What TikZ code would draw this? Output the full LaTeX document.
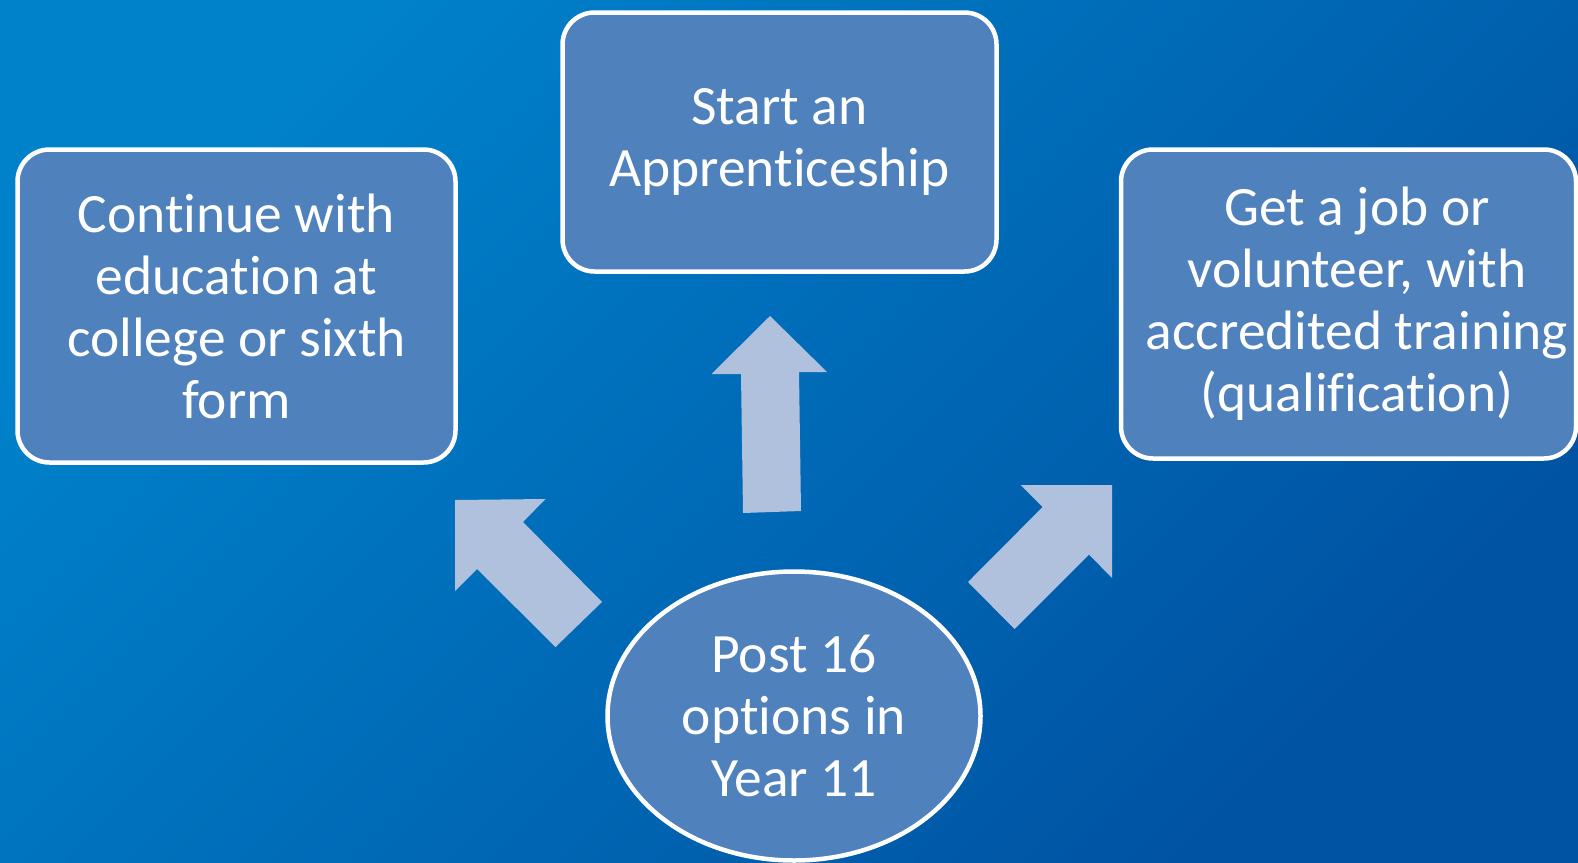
\documentclass[tikz,border=0pt]{standalone}
\usepackage{fontspec}
\setmainfont{Carlito}[Ligatures=NoCommon]
\usetikzlibrary{shapes.geometric}
\definecolor{bgA}{RGB}{0,130,203}
\definecolor{bgB}{RGB}{0,82,162}
\definecolor{boxfill}{RGB}{79,129,189}
\definecolor{arrowfill}{RGB}{176,193,221}
\begin{document}
\begin{tikzpicture}[x=1pt,y=-1pt,
  opttext/.style={text=white, align=center, inner sep=0pt, font=\fontsize{55.5}{62}\selectfont},
  optbox/.style={opttext, draw=white, line width=4.5pt, fill=boxfill, rounded corners=32pt},
  optell/.style={opttext, ellipse, draw=white, line width=4.5pt, fill=boxfill},
  blockarrow/.style={fill=arrowfill, draw=none}]
\useasboundingbox (0,0) rectangle (1578,862);
\shade[shading=axis, top color=bgA, bottom color=bgB, shading angle=45] (0,0) rectangle (1578,862);
% boxes
\node[optbox, minimum width=438pt, minimum height=313pt] (edu) at (236.5,306)
  {Continue with\\education at\\college or sixth\\form};
\node[optbox, minimum width=434pt, minimum height=259pt] (app) at (779.5,142)
  {Start an\\Apprenticeship};
\node[optbox, minimum width=455pt, minimum height=309pt] (jobbox) at (1348.5,304) {};
\node[opttext] (job) at (1357,304)
  {Get a job or\\volunteer, with\\accredited training\\(qualification)};
\node[optell, minimum width=373pt, minimum height=289pt] (post) at (794,716)
  {Post 16\\options in\\Year 11};
% block arrows
\fill[blockarrow] (770,316) -- (827,372) -- (799,372) -- (801,511) -- (743,513) -- (741,374) -- (711.5,374) -- cycle;
\fill[blockarrow] (455,500) -- (545.5,499) -- (523,522) -- (602,602) -- (555.5,647) -- (477,569) -- (455,591) -- cycle;
\fill[blockarrow] (1112,485) -- (1112,578) -- (1089,554.5) -- (1014.5,629) -- (968,582) -- (1042.6,507) -- (1020.5,485) -- cycle;
\end{tikzpicture}
\end{document}
